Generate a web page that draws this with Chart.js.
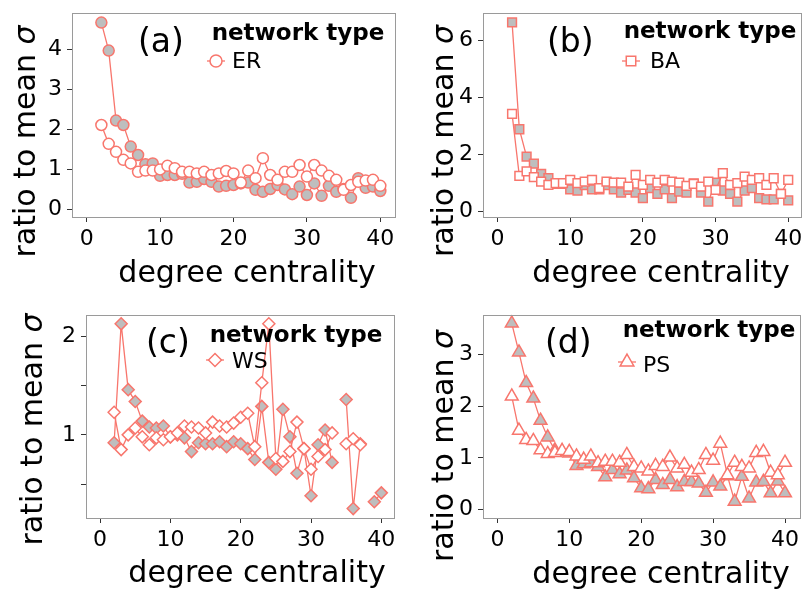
<!DOCTYPE html>
<html>
<head>
<meta charset="utf-8">
<script src="https://cdn.jsdelivr.net/npm/chart.js@4.4.0/dist/chart.umd.min.js"></script>
<style>
  html, body { margin: 0; padding: 0; background: #fff; }
  #wrap { position: relative; width: 809px; height: 590px; overflow: hidden; }
  canvas { position: absolute; }
</style>
</head>
<body>
<div id="wrap">
  <canvas id="chartA" width="404" height="295" style="left:0;top:0"></canvas>
  <canvas id="chartB" width="405" height="295" style="left:404px;top:0"></canvas>
  <canvas id="chartC" width="404" height="295" style="left:0;top:295px"></canvas>
  <canvas id="chartD" width="405" height="295" style="left:404px;top:295px"></canvas>
</div>
<script>
// degree centrality values on the x axis
const degree = [2, 3, 4, 5, 6, 7, 8, 9, 10, 11, 12, 13, 14, 15, 16, 17, 18, 19, 20, 21,
  22, 23, 24, 25, 26, 27, 28, 29, 30, 31, 32, 33, 34, 35, 36, 37, 38, 39, 40];
const xTicks = [0, 10, 20, 30, 40];

// (a) ER
const erOpen = [2.10, 1.63, 1.43, 1.23, 1.14, 0.93, 0.96, 0.96, 0.99, 1.08, 1.02, 0.93, 0.93, 0.89, 0.93, 0.85, 0.89, 0.95, 0.89, 0.66,
  0.96, 0.77, 1.27, 0.85, 0.73, 0.93, 0.93, 1.10, 0.81, 1.10, 0.96, 0.83, 0.73, 0.48, 0.60, 0.68, 0.71, 0.73, 0.58];
const erFilled = [4.66, 3.96, 2.21, 2.10, 1.56, 1.35, 1.12, 1.14, 0.83, 0.85, 0.85, 0.88, 0.66, 0.68, 0.75, 0.68, 0.56, 0.58, 0.60, 0.64,
  0.66, 0.48, 0.43, 0.50, 0.60, 0.49, 0.37, 0.56, 0.35, 0.64, 0.33, 0.58, 0.43, 0.50, 0.28, 0.77, 0.53, 0.56, 0.45];
const yTicksA = [0, 1, 2, 3, 4];

// (b) BA
const baOpen = [3.43, 1.25, 1.41, 1.21, 1.05, 0.94, 1.00, 1.00, 1.11, 1.00, 1.05, 1.11, 0.82, 1.05, 1.02, 1.02, 0.88, 1.29, 0.94, 1.11,
  1.02, 1.11, 1.05, 1.02, 0.90, 0.97, 0.88, 1.05, 0.76, 1.35, 0.94, 1.00, 1.23, 1.11, 1.17, 0.94, 1.17, 0.62, 1.11];
const baFilled = [6.64, 2.89, 1.93, 1.68, 1.32, 1.17, 0.97, 0.97, 0.78, 0.74, 0.93, 0.78, 0.78, 0.93, 0.78, 0.67, 0.76, 0.67, 0.47, 0.82,
  0.62, 0.78, 0.47, 0.70, 0.67, 0.99, 0.67, 0.35, 1.02, 0.74, 0.62, 0.35, 0.74, 0.82, 0.47, 0.43, 0.43, 0.62, 0.39];
const yTicksB = [0, 2, 4, 6];

// (c) WS
const wsOpen = [1.23, 0.85, 1.00, 1.07, 0.98, 0.90, 0.97, 0.95, 0.98, 1.02, 1.09, 1.08, 1.07, 1.02, 1.13, 1.09, 1.08, 1.12, 1.18, 1.22,
  0.88, 1.53, 2.13, 0.76, 0.73, 0.83, 1.13, 0.86, 0.65, 0.78, 0.85, 1.02, null, 0.91, 0.96, 0.90, null, null, null];
const wsFilled = [0.92, 2.13, 1.46, 1.34, 1.14, 1.08, 1.07, 1.09, 0.98, 1.00, 0.97, 0.83, 0.92, 0.91, 0.91, 0.93, 0.88, 0.93, 0.91, 0.86,
  0.75, 1.29, 0.72, 0.65, 1.26, 0.98, 0.61, 0.86, 0.38, 0.90, 1.05, 0.72, null, 1.36, 0.25, 0.91, null, 0.32, 0.41];
const yTicksC = [0.5, 1, 1.5, 2];

// (d) PS
const psOpen = [2.19, 1.53, 1.35, 1.33, 1.15, 1.08, 1.10, 1.14, 1.12, 1.03, 0.97, 1.03, 0.90, 0.93, 0.93, 0.91, 1.06, 0.83, 0.80, 0.74,
  0.85, 0.83, 1.01, 0.80, 0.87, 0.72, 0.77, 1.06, 0.95, 1.28, 0.67, 0.91, 0.83, 0.80, 1.10, 1.12, 0.72, 0.67, 0.91];
const psFilled = [3.60, 3.04, 2.45, 2.15, 1.72, 1.40, 1.15, 1.12, 1.09, 0.85, 0.88, 0.90, 0.83, 0.63, 0.77, 0.69, 0.76, 0.61, 0.42, 0.40,
  0.58, 0.48, 0.58, 0.44, 0.54, 0.54, 0.51, 0.33, 0.53, 0.45, 0.65, 0.16, 0.64, 0.22, 0.53, 0.54, 0.32, 0.55, 0.32];
const yTicksD = [0, 1, 2, 3];

const lineColor = '#F8766D';
const grayFill = '#BEBEBE';
const fontFamily = '"DejaVu Sans", Verdana, sans-serif';
Chart.defaults.font.family = fontFamily;

function points(values) {
  return degree.map((d, i) => ({ x: d, y: values[i] }));
}

// page coordinates of each panel (canvas box and plot area)
const panels = [
  { id: 'chartA', box: [0, 0, 404, 295], area: [72, 13, 395, 217], xRange: [-2, 42], yRange: [-0.2, 4.9], yTicks: yTicksA,
    open: erOpen, filled: erFilled, name: 'ER', style: 'circle', radius: 5.5,
    tag: '(a)', tagPos: [138, 52], legTitle: [298, 40], marker: [216, 61], namePos: [232, 68],
    yTitle: [35, 141.5], xTitle: [247, 282] },
  { id: 'chartB', box: [404, 0, 405, 295], area: [483, 13, 805, 217], xRange: [-2, 41.8], yRange: [-0.19, 6.97], yTicks: yTicksB,
    open: baOpen, filled: baFilled, name: 'BA', style: 'rect', radius: 6.2,
    tag: '(b)', tagPos: [547, 52], legTitle: [710, 38], marker: [631, 61], namePos: [650, 68],
    yTitle: [453, 141], xTitle: [661, 282] },
  { id: 'chartC', box: [0, 295, 404, 295], area: [86, 315, 394, 518], xRange: [-2, 41.8], yRange: [0.154, 2.22], yTicks: yTicksC,
    open: wsOpen, filled: wsFilled, name: 'WS', style: 'rectRot', radius: 6,
    tag: '(c)', tagPos: [146, 353], legTitle: [296, 342], marker: [215, 360], namePos: [232, 368],
    yTitle: [42, 429.5], xTitle: [257, 582] },
  { id: 'chartD', box: [404, 295, 405, 295], area: [483, 315, 807, 518], xRange: [-2, 42.1], yRange: [-0.16, 3.76], yTicks: yTicksD,
    open: psOpen, filled: psFilled, name: 'PS', style: 'triangle', radius: 7.4,
    tag: '(d)', tagPos: [545, 353], legTitle: [709, 337], marker: [627, 362], namePos: [643, 372],
    yTitle: [453, 446], xTitle: [661, 583] }
];

const panelDecor = {
  id: 'panelDecor',
  afterDraw(chart, args, opts) {
    const p = opts.panel;
    const ox = p.box[0], oy = p.box[1];
    const a = chart.chartArea;
    const ctx = chart.ctx;
    ctx.save();
    // frame round the plot
    ctx.strokeStyle = '#9a9a9a';
    ctx.lineWidth = 1;
    ctx.strokeRect(Math.round(a.left) + 0.5, Math.round(a.top) + 0.5,
      Math.round(a.right - a.left), Math.round(a.bottom - a.top));

    ctx.fillStyle = '#000';
    ctx.textBaseline = 'alphabetic';
    // panel tag
    ctx.font = '33px ' + fontFamily;
    ctx.textAlign = 'left';
    ctx.fillText(p.tag, p.tagPos[0] - ox, p.tagPos[1] - oy);

    // legend
    ctx.font = 'bold 23px ' + fontFamily;
    ctx.textAlign = 'center';
    ctx.fillText('network type', p.legTitle[0] - ox, p.legTitle[1] - oy);
    const mx = p.marker[0] - ox, my = p.marker[1] - oy;
    ctx.strokeStyle = lineColor;
    ctx.lineWidth = 1.3;
    ctx.beginPath();
    ctx.moveTo(mx - 9, my);
    ctx.lineTo(mx + 9, my);
    ctx.stroke();
    ctx.fillStyle = '#fff';
    ctx.lineWidth = 1.5;
    Chart.helpers.drawPoint(ctx, { pointStyle: p.style, radius: p.radius + 0.5, borderWidth: 1.5, rotation: 0 }, mx, my);
    ctx.fillStyle = '#000';
    ctx.font = '22px ' + fontFamily;
    ctx.textAlign = 'left';
    ctx.fillText(p.name, p.namePos[0] - ox, p.namePos[1] - oy);

    // x title
    ctx.font = '30px ' + fontFamily;
    ctx.textAlign = 'center';
    ctx.fillText('degree centrality', p.xTitle[0] - ox, p.xTitle[1] - oy);

    // y title with italic sigma
    const plain = 'ratio to mean ';
    ctx.font = '30px ' + fontFamily;
    const w1 = ctx.measureText(plain).width;
    ctx.font = 'italic 30px ' + fontFamily;
    const w2 = ctx.measureText('σ').width;
    ctx.translate(p.yTitle[0] - ox, p.yTitle[1] - oy);
    ctx.rotate(-Math.PI / 2);
    ctx.textAlign = 'left';
    ctx.font = '30px ' + fontFamily;
    ctx.fillText(plain, -(w1 + w2) / 2, 0);
    ctx.font = 'italic 30px ' + fontFamily;
    ctx.fillText('σ', -(w1 + w2) / 2 + w1, 0);
    ctx.restore();
  }
};

panels.forEach(p => {
  const [bx, by, bw, bh] = p.box;
  const [l, t, r, b] = p.area;
  new Chart(document.getElementById(p.id), {
    type: 'line',
    data: {
      datasets: [{
        label: p.name,
        data: points(p.open),
        borderColor: lineColor,
        borderWidth: 1.3,
        pointStyle: p.style,
        pointRadius: p.radius,
        pointBorderWidth: 1.5,
        pointBackgroundColor: '#fff',
        pointBorderColor: lineColor,
        spanGaps: false,
        clip: false
      }, {
        label: p.name + ' (filled)',
        data: points(p.filled),
        borderColor: lineColor,
        borderWidth: 1.3,
        pointStyle: p.style,
        pointRadius: p.radius,
        pointBorderWidth: 1.5,
        pointBackgroundColor: grayFill,
        pointBorderColor: lineColor,
        spanGaps: false,
        clip: false
      }]
    },
    plugins: [panelDecor],
    options: {
      responsive: false,
      animation: false,
      layout: { padding: { top: t - by, right: bx + bw - r, left: 0, bottom: 0 } },
      scales: {
        x: {
          type: 'linear',
          min: p.xRange[0],
          max: p.xRange[1],
          afterBuildTicks: s => { s.ticks = xTicks.map(v => ({ value: v })); },
          afterFit: s => { s.height = by + bh - b; s.paddingLeft = 0; s.paddingRight = 0; },
          grid: { drawOnChartArea: false, drawTicks: true, tickLength: 5, color: '#333' },
          border: { display: false },
          ticks: { font: { size: 22 }, color: '#000', padding: 4, maxRotation: 0, callback: v => String(v) }
        },
        y: {
          min: p.yRange[0],
          max: p.yRange[1],
          afterBuildTicks: s => { s.ticks = p.yTicks.map(v => ({ value: v })); },
          afterFit: s => { s.width = l - bx; s.paddingTop = 0; s.paddingBottom = 0; },
          grid: { drawOnChartArea: false, drawTicks: true, tickLength: 5, color: '#333' },
          border: { display: false },
          ticks: { font: { size: 22 }, color: '#000', padding: 5, callback: v => Number.isInteger(v) ? String(v) : '' }
        }
      },
      plugins: {
        legend: { display: false },
        tooltip: { enabled: false },
        panelDecor: { panel: p }
      }
    }
  });
});
</script>
</body>
</html>
